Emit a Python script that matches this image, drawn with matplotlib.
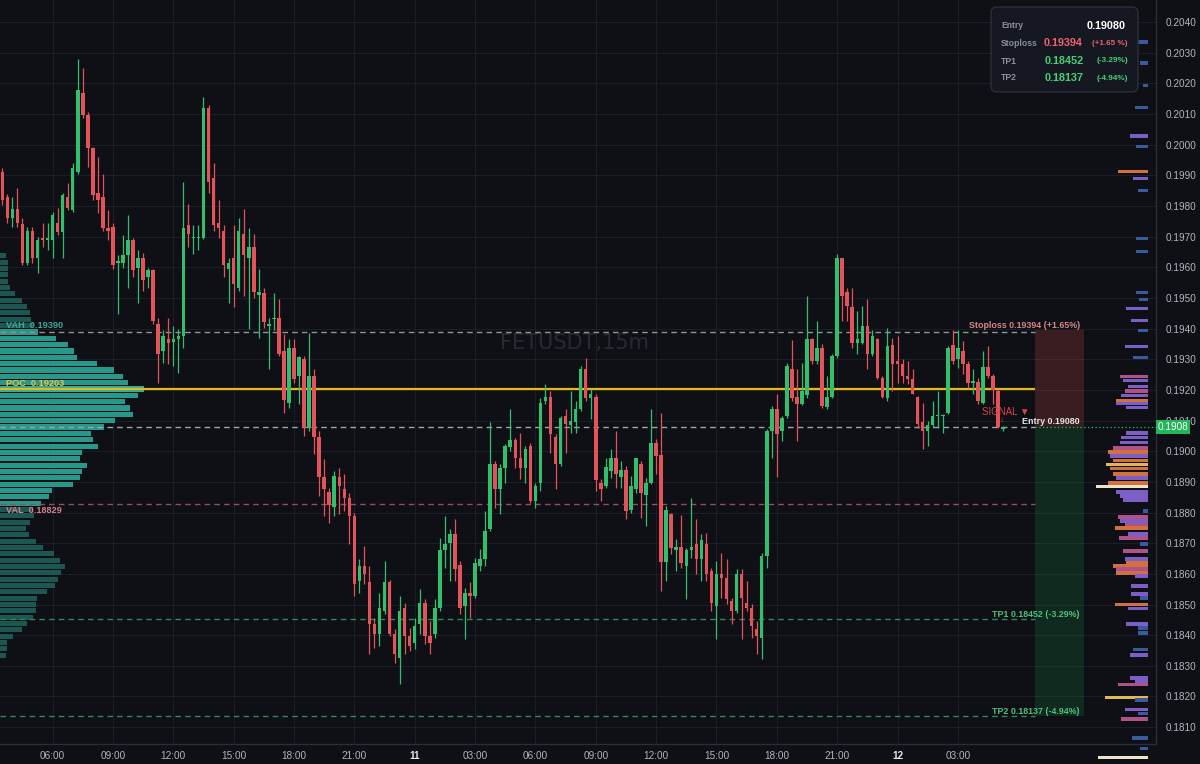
import matplotlib
matplotlib.use("Agg")
import matplotlib.pyplot as plt
import numpy as np
from matplotlib.patches import FancyBboxPatch, Rectangle

plt.rcParams['font.family'] = ['Liberation Sans', 'DejaVu Sans']

# ---------------- data ----------------
title = "FETUSDT,15m"
opens = [0.19910,0.19828,0.19760,0.19789,0.19740,0.19615,0.19720,0.19629,0.19697,0.19688,
0.19688,0.19746,0.19714,0.19828,0.19786,0.19910,0.20168,0.20096,0.19988,0.19844,
0.19828,0.19727,0.19730,0.19615,0.19615,0.19639,0.19688,0.19599,0.19629,0.19567,
0.19590,0.19416,0.19328,0.19367,0.19357,0.19367,0.19377,0.19737,0.19697,0.19697,
0.19697,0.20119,0.19890,0.19746,0.19720,0.19596,0.19629,0.19534,0.19710,0.19629,
0.19665,0.19511,0.19515,0.19407,0.19430,0.19436,0.19328,0.19158,0.19338,0.19247,
0.19302,0.19077,0.19247,0.19047,0.18916,0.18867,0.18818,0.18916,0.18877,0.18848,
0.18789,0.18576,0.18625,0.18573,0.18436,0.18403,0.18479,0.18573,0.18403,0.18325,
0.18488,0.18397,0.18374,0.18436,0.18505,0.18397,0.18403,0.18488,0.18678,0.18701,
0.18730,0.18629,0.18495,0.18537,0.18527,0.18625,0.18648,0.18747,0.18959,0.18877,
0.18946,0.19014,0.19037,0.18979,0.18946,0.19018,0.18838,0.18897,0.19165,0.19178,
0.19047,0.18959,0.19116,0.19086,0.19096,0.19139,0.19269,0.19174,0.19178,0.18897,
0.18887,0.18936,0.18979,0.18916,0.18939,0.18808,0.18877,0.18959,0.18858,0.18897,
0.19027,0.18988,0.18638,0.18795,0.18678,0.18688,0.18625,0.18678,0.18697,0.18648,
0.18697,0.18609,0.18495,0.18599,0.18586,0.18511,0.18479,0.18599,0.18505,0.18488,
0.18420,0.18391,0.18658,0.19067,0.19139,0.19067,0.19116,0.19269,0.19178,0.19155,
0.19184,0.19367,0.19296,0.19338,0.19145,0.19178,0.19312,0.19629,0.19518,0.19469,
0.19354,0.19354,0.19407,0.19318,0.19367,0.19240,0.19174,0.19348,0.19296,0.19286,
0.19247,0.19237,0.19178,0.19096,0.19067,0.19086,0.19116,0.19116,0.19126,0.19348,
0.19302,0.19328,0.19286,0.19224,0.19227,0.19158,0.19276,0.19247,0.19198,0.19074]
highs = [0.19923,0.19838,0.19828,0.19858,0.19760,0.19730,0.19733,0.19700,0.19743,0.19743,
0.19779,0.19795,0.19841,0.19874,0.19939,0.20279,0.20250,0.20106,0.19991,0.19959,
0.19906,0.19786,0.19743,0.19639,0.19704,0.19770,0.19694,0.19655,0.19648,0.19599,
0.19596,0.19436,0.19394,0.19436,0.19410,0.19400,0.19877,0.19808,0.19737,0.19737,
0.20155,0.20129,0.19939,0.19818,0.19737,0.19632,0.19737,0.19760,0.19789,0.19727,
0.19710,0.19596,0.19534,0.19436,0.19515,0.19498,0.19384,0.19367,0.19367,0.19312,
0.19312,0.19387,0.19269,0.19067,0.18975,0.18880,0.18936,0.18946,0.18926,0.18864,
0.18799,0.18648,0.18691,0.18625,0.18455,0.18537,0.18642,0.18580,0.18420,0.18527,
0.18505,0.18423,0.18455,0.18550,0.18518,0.18446,0.18518,0.18717,0.18789,0.18746,
0.18779,0.18642,0.18553,0.18573,0.18652,0.18681,0.18805,0.19096,0.18969,0.18959,
0.19024,0.19139,0.19044,0.19060,0.19018,0.19027,0.18897,0.19174,0.19220,0.19198,
0.19057,0.19116,0.19139,0.19198,0.19165,0.19279,0.19305,0.19204,0.19188,0.18910,
0.18979,0.19008,0.19067,0.18969,0.18952,0.18920,0.18979,0.18969,0.18913,0.19139,
0.19041,0.19126,0.18822,0.18799,0.18714,0.18792,0.18684,0.18848,0.18779,0.18730,
0.18733,0.18619,0.18642,0.18668,0.18648,0.18521,0.18616,0.18616,0.18576,0.18501,
0.18446,0.18668,0.19073,0.19148,0.19188,0.19116,0.19289,0.19364,0.19269,0.19289,
0.19508,0.19371,0.19426,0.19351,0.19247,0.19318,0.19645,0.19632,0.19534,0.19531,
0.19459,0.19475,0.19498,0.19394,0.19371,0.19247,0.19403,0.19371,0.19377,0.19302,
0.19296,0.19269,0.19181,0.19158,0.19099,0.19165,0.19198,0.19122,0.19344,0.19394,
0.19394,0.19361,0.19296,0.19269,0.19240,0.19328,0.19344,0.19253,0.19204,0.19083]
lows = [0.19802,0.19746,0.19730,0.19733,0.19606,0.19606,0.19615,0.19580,0.19665,0.19655,
0.19629,0.19704,0.19629,0.19786,0.19779,0.19904,0.20087,0.19926,0.19818,0.19776,
0.19720,0.19688,0.19596,0.19449,0.19599,0.19534,0.19567,0.19485,0.19524,0.19531,
0.19416,0.19224,0.19289,0.19286,0.19279,0.19256,0.19338,0.19665,0.19645,0.19655,
0.19691,0.19844,0.19720,0.19697,0.19567,0.19485,0.19469,0.19524,0.19508,0.19400,
0.19501,0.19371,0.19403,0.19269,0.19394,0.19312,0.19126,0.19142,0.19224,0.19155,
0.19050,0.19067,0.18991,0.18854,0.18789,0.18766,0.18789,0.18795,0.18805,0.18697,
0.18527,0.18537,0.18567,0.18338,0.18358,0.18364,0.18469,0.18397,0.18309,0.18240,
0.18338,0.18348,0.18355,0.18403,0.18371,0.18338,0.18390,0.18479,0.18619,0.18576,
0.18576,0.18469,0.18387,0.18456,0.18521,0.18609,0.18625,0.18740,0.18815,0.18795,
0.18897,0.19001,0.18946,0.18910,0.18897,0.18831,0.18815,0.18871,0.19155,0.18995,
0.18877,0.18952,0.18995,0.19060,0.19060,0.19132,0.19165,0.19106,0.18871,0.18838,
0.18880,0.18913,0.18880,0.18880,0.18779,0.18799,0.18864,0.18782,0.18756,0.18894,
0.18926,0.18544,0.18576,0.18665,0.18609,0.18619,0.18518,0.18652,0.18599,0.18576,
0.18576,0.18479,0.18387,0.18521,0.18501,0.18436,0.18472,0.18387,0.18479,0.18391,
0.18338,0.18322,0.18619,0.18979,0.18916,0.19034,0.19109,0.19165,0.19034,0.19152,
0.19174,0.19286,0.19286,0.19142,0.19139,0.19174,0.19305,0.19426,0.19426,0.19338,
0.19318,0.19351,0.19269,0.19312,0.19237,0.19174,0.19165,0.19198,0.19224,0.19224,
0.19220,0.19188,0.19077,0.19008,0.19018,0.19077,0.19077,0.19060,0.19122,0.19286,
0.19273,0.19253,0.19207,0.19188,0.19155,0.19155,0.19240,0.19155,0.19077,0.19067]
closes = [0.19818,0.19760,0.19789,0.19743,0.19615,0.19720,0.19629,0.19688,0.19688,0.19694,
0.19770,0.19714,0.19835,0.19795,0.19923,0.20178,0.20096,0.19988,0.19835,0.19818,
0.19727,0.19717,0.19606,0.19622,0.19639,0.19688,0.19590,0.19629,0.19557,0.19590,
0.19426,0.19318,0.19377,0.19354,0.19367,0.19377,0.19727,0.19710,0.19700,0.19700,
0.20119,0.19877,0.19737,0.19727,0.19606,0.19615,0.19547,0.19720,0.19639,0.19665,
0.19518,0.19518,0.19420,0.19416,0.19436,0.19318,0.19168,0.19338,0.19237,0.19306,
0.19077,0.19247,0.19047,0.18916,0.18877,0.18825,0.18920,0.18887,0.18848,0.18789,
0.18567,0.18625,0.18599,0.18436,0.18403,0.18488,0.18573,0.18403,0.18338,0.18479,
0.18397,0.18364,0.18430,0.18505,0.18397,0.18374,0.18488,0.18678,0.18697,0.18730,
0.18616,0.18488,0.18537,0.18527,0.18635,0.18648,0.18740,0.18959,0.18877,0.18946,
0.19018,0.19037,0.18979,0.18946,0.19008,0.18838,0.18887,0.19158,0.19178,0.19057,
0.18959,0.19109,0.19090,0.19099,0.19139,0.19269,0.19174,0.19187,0.18907,0.18877,
0.18949,0.18979,0.18926,0.18939,0.18805,0.18887,0.18979,0.18864,0.18897,0.19027,
0.18985,0.18638,0.18808,0.18684,0.18688,0.18635,0.18678,0.18688,0.18648,0.18710,
0.18599,0.18505,0.18599,0.18586,0.18518,0.18479,0.18599,0.18521,0.18488,0.18430,
0.18397,0.18658,0.19067,0.19139,0.19057,0.19109,0.19279,0.19174,0.19155,0.19197,
0.19367,0.19296,0.19338,0.19148,0.19178,0.19312,0.19629,0.19508,0.19475,0.19354,
0.19367,0.19407,0.19318,0.19377,0.19240,0.19178,0.19344,0.19286,0.19286,0.19247,
0.19237,0.19188,0.19090,0.19067,0.19086,0.19116,0.19119,0.19119,0.19338,0.19296,
0.19338,0.19286,0.19224,0.19230,0.19165,0.19276,0.19247,0.19201,0.19080,0.19080]

time_labels = ["06:00", "09:00", "12:00", "15:00", "18:00", "21:00", "11", "03:00",
               "06:00", "09:00", "12:00", "15:00", "18:00", "21:00", "12", "03:00"]
first_tick_candle = 10      # 06:00 is the 11th candle (start 03:30)
candles_per_tick = 12       # 3 hours of 15m candles

price_ticks = [0.1810,0.1820,0.1830,0.1840,0.1850,0.1860,0.1870,0.1880,0.1890,0.1900,0.1910,0.1920,
               0.1930,0.1940,0.1950,0.1960,0.1970,0.1980,0.1990,0.2000,0.2010,0.2020,0.2030,0.2040]

# levels
vah, poc, val = 0.19390, 0.19203, 0.18829
entry, stoploss, tp1, tp2 = 0.19080, 0.19394, 0.18452, 0.18137
sl_pct, tp1_pct, tp2_pct = "+1.65", "-3.29", "-4.94"
last_price = 0.1908

# left (session) volume profile
lp_price = [0.19638,0.19617,0.19596,0.19576,0.19555,0.19534,0.19514,0.19493,0.19472,0.19452,
            0.19431,0.19410,0.19389,0.19369,0.19348,0.19327,0.19307,0.19286,0.19265,0.19245,
            0.19224,0.19203,0.19183,0.19162,0.19141,0.19120,0.19100,0.19079,0.19058,0.19038,
            0.19017,0.18996,0.18976,0.18955,0.18934,0.18914,0.18893,0.18872,0.18851,0.18831,
            0.18810,0.18789,0.18769,0.18748,0.18727,0.18707,0.18686,0.18665,0.18645,0.18624,
            0.18603,0.18583,0.18562,0.18541,0.18521,0.18500,0.18479,0.18458,0.18438,0.18417,
            0.18396,0.18376,0.18355,0.18334]
lp_vol = [6,8,8,8,8,10,15,22,27,30,31,33,38,56,68,74,77,97,114,123,
          128,144,138,125,130,133,115,104,91,93,98,82,80,87,82,80,73,52,49,41,
          33,34,30,26,29,36,43,54,60,65,61,58,55,47,37,36,36,33,27,22,
          13,7,7,6]

# right (visible-range) volume profile
rp_price = [0.20335,0.20266,0.20194,0.20122,0.20028,0.19995,0.19913,0.19890,0.19851,0.19694,
            0.19652,0.19518,0.19495,0.19465,0.19426,0.19394,0.19341,0.19305,0.19243,0.19230,
            0.19211,0.19197,0.19181,0.19165,0.19155,0.19142,0.19060,0.19044,0.19028,0.19011,
            0.18998,0.18985,0.18969,0.18956,0.18943,0.18926,0.18913,0.18897,0.18884,0.18867,
            0.18854,0.18841,0.18805,0.18786,0.18773,0.18760,0.18750,0.18730,0.18717,0.18697,
            0.18674,0.18648,0.18635,0.18626,0.18616,0.18603,0.18593,0.18560,0.18534,0.18521,
            0.18501,0.18488,0.18436,0.18423,0.18407,0.18354,0.18335,0.18260,0.18247,0.18240,
            0.18197,0.18188,0.18158,0.18145,0.18126,0.18064,0.18031,0.18001]
rp_vol = [13,8,5,13,18,12,30,15,10,12,
          12,12,9,22,17,10,23,15,28,25,
          20,23,27,32,32,22,22,27,28,35,
          40,38,35,42,38,35,32,40,52,32,
          28,25,5,30,28,23,33,20,29,8,
          25,23,22,35,32,32,13,17,17,8,
          33,20,22,10,10,15,18,18,13,30,
          43,13,23,10,27,16,8,50]
rp_kind = ['b','b','b','b','p','b','o','p','b','b',
           'b','b','b','p','p','b','p','b','k','p',
           'p','k','p','o','p','p','p','p','p','k',
           'o','p','o','y','o','o','p','o','c','p',
           'p','p','b','k','p','k','o','p','k','b',
           'k','p','o','o','k','o','p','p','p','b',
           'o','p','p','b','b','b','p','p','p','k',
           'y','b','p','b','k','b','b','c']

# ---------------- style ----------------
BG = '#0e1016'
GRID = '#1b1e27'
GREEN = '#2fbf6d'
RED = '#e4525a'
AXTXT = '#b2b5be'
kind_col = {'b': '#3b5a9e', 'p': '#7b5fc6', 'k': '#b0528a', 'o': '#d2703f',
            'y': '#e2b75a', 'c': '#efe4c8'}

W, H = 1200, 764
fig = plt.figure(figsize=(W / 100, H / 100), dpi=100)
fig.patch.set_facecolor(BG)
ax = fig.add_axes([0, 20 / H, 1156 / W, 744 / H])
ax.set_facecolor(BG)

n = len(opens)
x = np.arange(n)
O = np.array(opens); Hh = np.array(highs); Lw = np.array(lows); C = np.array(closes)
XMIN, XMAX = -0.46, 229.4
YMIN, YMAX = 0.18045, 0.20472
ax.set_xlim(XMIN, XMAX)
ax.set_ylim(YMIN, YMAX)

# grid / axes
tick_pos = [first_tick_candle + candles_per_tick * k for k in range(len(time_labels))]
ax.set_xticks(tick_pos)
ax.set_xticklabels(time_labels)
ax.set_yticks(price_ticks)
ax.set_yticklabels([f"{p:.4f}" for p in price_ticks])
ax.grid(True, color=GRID, lw=0.8, zorder=0)
ax.set_axisbelow(True)
ax.yaxis.tick_right()
ax.tick_params(axis='both', length=0, colors=AXTXT, labelsize=7.2)
ax.tick_params(axis='y', pad=7)
ax.tick_params(axis='x', pad=5)
for lbl in ax.get_xticklabels():
    if lbl.get_text() in ("11", "12"):
        lbl.set_fontweight('bold')
        lbl.set_color('#e8e9ec')
for s in ('top', 'left'):
    ax.spines[s].set_visible(False)
for s in ('bottom', 'right'):
    ax.spines[s].set_color('#2a2e39')
    ax.spines[s].set_linewidth(1)

ytr = ax.get_yaxis_transform()   # x: axes fraction, y: data

# watermark
ax.text(0.497, 0.19354, title, transform=ytr, ha='center', va='center',
        fontsize=15, color='#262a34', zorder=1, family=['DejaVu Sans'])

# left volume profile
lp_max = max(lp_vol)
lp_cols = []
for p in lp_price:
    if abs(p - poc) < 0.0001:
        lp_cols.append('#34ad98')
    elif val - 0.00005 <= p <= vah + 0.00005:
        lp_cols.append('#28988a')
    else:
        lp_cols.append('#1d5752')
ax.barh(lp_price, [v / lp_max * (144 / 1156) for v in lp_vol], height=0.000165,
        left=0, transform=ytr, color=lp_cols, linewidth=0, zorder=2)

# right volume profile
rp_max = max(rp_vol)
rp_w = [v / rp_max * (52 / 1156) for v in rp_vol]
rp_right = 1148 / 1156
bars = ax.barh(rp_price, rp_w, height=0.00011, left=[rp_right - w for w in rp_w],
               transform=ytr, color=[kind_col[k] for k in rp_kind], linewidth=0, zorder=2)
for b in bars:
    b.set_clip_on(False)

# level lines
line_end = 205.3
box_end = 215.05
ax.hlines(vah, XMIN, line_end, colors='#8d9592', lw=1, ls=(0, (4, 3)), zorder=3)
ax.hlines(poc, XMIN, line_end, colors='#e6b820', lw=1.6, zorder=3)
ax.hlines(entry, XMIN, line_end, colors='#9ea6a6', lw=1, ls=(0, (4, 3)), zorder=3)
ax.hlines(val, XMIN, line_end, colors='#9c4d5c', lw=1, ls=(0, (4, 3)), zorder=3)
ax.hlines(tp1, XMIN, line_end, colors='#2e8a54', lw=1, ls=(0, (4, 3)), zorder=3)
ax.hlines(tp2, XMIN, line_end, colors='#2e8a54', lw=1, ls=(0, (4, 3)), zorder=3)
ax.hlines(last_price, line_end, XMAX, colors='#22c55e', lw=0.9, ls=(0, (1, 2)), zorder=3)

# risk / reward boxes
ax.add_patch(Rectangle((line_end, entry), box_end - line_end, stoploss - entry,
                       facecolor='#ef5350', alpha=0.2, lw=0, zorder=2))
ax.add_patch(Rectangle((line_end, tp2), box_end - line_end, entry - tp2,
                       facecolor='#22c55e', alpha=0.15, lw=0, zorder=2))

# candles
col = np.where(C >= O, GREEN, RED)
ax.vlines(x, np.minimum(Lw, np.minimum(O, C)), np.maximum(Hh, np.maximum(O, C)),
          colors=col, lw=0.9, zorder=4)
ax.bar(x, np.maximum(np.abs(C - O), 0.00003), bottom=np.minimum(O, C), width=0.7,
       color=col, linewidth=0, zorder=5)

# level labels
def lab(xf, y, txt, color, dy, ha='left', size=6.6, weight='bold'):
    ax.annotate(txt, xy=(xf, y), xycoords=ytr, xytext=(0, dy * 0.72),
                textcoords='offset points', ha=ha, va='center', color=color,
                fontsize=size, fontweight=weight, zorder=8, annotation_clip=False)

lab(6 / 1156, vah, f"VAH  {vah:.5f}", '#39a996', 6)
lab(6 / 1156, poc, f"POC  {poc:.5f}", '#e8c547', 6)
lab(6 / 1156, val, f"VAL  {val:.5f}", '#d77f8e', -7)

rx = 1080 / 1156
lab(rx, stoploss, f"Stoploss {stoploss:.5f} ({sl_pct}%)", '#d98585', 5, ha='right', size=6.4)
lab(rx, entry, f"Entry {entry:.5f}", '#e4e4e4', 5, ha='right', size=6.4)
lab(rx, tp1, f"TP1 {tp1:.5f} ({tp1_pct}%)", '#4cc27a', 5, ha='right', size=6.4)
lab(rx, tp2, f"TP2 {tp2:.5f} ({tp2_pct}%)", '#4cc27a', 4, ha='right', size=6.4)
lab(982 / 1156, entry, "SIGNAL ▼", '#dc444c', 15, weight='normal', size=7)
lab(1002 / 1156, entry, "↓", '#e0454d', 6, ha='center', size=6)

# current price tag on the axis
ax.text(1.0015, last_price, f"{last_price:.4f}", transform=ytr, ha='left', va='center',
        fontsize=7.2, color='white', zorder=20, clip_on=False,
        bbox=dict(boxstyle='square,pad=0.18', fc='#22b55a', ec='none'))

# info box (top right)
def fx(px):
    return px / W
def fy(py):
    return 1 - py / H

box = FancyBboxPatch((fx(991), fy(92)), fx(1138) - fx(991), fy(7) - fy(92),
                     boxstyle="round,pad=0,rounding_size=0.005", mutation_aspect=W / H,
                     transform=fig.transFigure, facecolor='#151820', edgecolor='#2b2f3a',
                     lw=1, zorder=30)
fig.add_artist(box)

def ftext(px, py, txt, color, size, ha='left', weight='bold'):
    fig.text(fx(px), fy(py), txt, color=color, fontsize=size, ha=ha, va='center',
             fontweight=weight, zorder=31)

GRAYL = '#8b8f99'
GR = '#45cf78'
RD = '#f0616d'
ftext(1001, 26, "Entry", GRAYL, 6.2)
ftext(1126, 26, f"{entry:.5f}", '#ffffff', 7.8, ha='right')
ftext(1001, 43.5, "Stoploss", GRAYL, 6.2)
ftext(1083, 43.5, f"{stoploss:.5f}", RD, 7.8, ha='right')
ftext(1128, 43.5, f"({sl_pct} %)", '#e0636c', 5.9, ha='right')
ftext(1001, 61, "TP1", GRAYL, 6.2)
ftext(1084, 61, f"{tp1:.5f}", GR, 7.8, ha='right')
ftext(1128, 61, f"({tp1_pct}%)", GR, 5.9, ha='right')
ftext(1001, 78, "TP2", GRAYL, 6.2)
ftext(1084, 78, f"{tp2:.5f}", GR, 7.8, ha='right')
ftext(1128, 78, f"({tp2_pct}%)", GR, 5.9, ha='right')

fig.savefig("out.png", dpi=100, facecolor=BG)
